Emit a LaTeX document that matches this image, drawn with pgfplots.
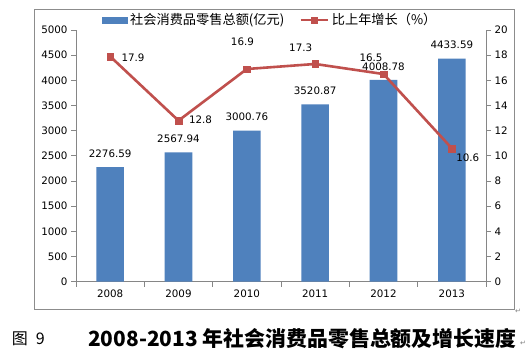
\documentclass[border=0pt]{standalone}
\usepackage{pgfplots}
\pgfplotsset{compat=1.18}
\usepackage{pgfplotstable}
\usepackage{fontspec}
\setmainfont{DejaVu Sans}
\newfontfamily\cjk{Noto Sans CJK SC}
\definecolor{barblue}{HTML}{4F81BD}
\definecolor{linered}{HTML}{C0504D}
\definecolor{axisgray}{HTML}{868686}
\definecolor{framegray}{HTML}{8C8C8C}
\newcommand\tickfont{\fontsize{10.3}{12}\selectfont}
\pgfplotsset{
  barlegend/.style={legend image code/.code={\fill[barblue] (0pt,-2.7pt) rectangle (25pt,2.7pt);}},
  linelegend/.style={legend image code/.code={\draw[mark repeat=2, mark phase=2, ##1] plot coordinates {(0pt,0pt) (13.5pt,0pt) (27pt,0pt)};}},
  redline/.style={linered, line width=2.6pt, mark=square*, mark size=3.4pt,
    mark options={fill=linered, draw=linered, line width=0.2pt}},
}

\pgfplotstableread{
x v
0 2276.59
1 2567.94
2 3000.76
3 3520.87
4 4008.78
5 4433.59
}\bartable
\pgfplotstableread{
x g dx dy
0 17.9 22.8 -1
1 12.8 22 0.7
2 16.9 -4.4 27.3
3 17.3 -14.5 16
4 16.5 -12.5 16.3
5 10.6 16 -9.3
}\linetable

\begin{document}
\begin{tikzpicture}
\path[use as bounding box] (0,0) rectangle (529pt,356pt);
\fill[white] (0,0) rectangle (529pt,356pt);
\draw[framegray, line width=0.75pt] (34pt,347pt) rectangle (514pt,47pt);
\pgfplotsset{common/.style={at={(76pt,74.3pt)}, anchor=south west, scale only axis,
  width=410pt, height=251.7pt, xmin=-0.5, xmax=5.5,
  tick align=outside, major tick length=5pt, minor tick length=5pt,
  every tick/.style={axisgray, line width=0.75pt},
  axis line style={axisgray, line width=0.75pt},
  ticklabel style={font=\tickfont, text=black},
  /pgf/number format/assume math mode=true, /pgf/number format/1000 sep={},
  clip=false}}
\begin{axis}[common, ymin=0, ymax=5000,
  axis x line*=bottom, axis y line*=left,
  ytick={0,500,...,5000},
  xtick={0,...,5}, xticklabels={2008,2009,2010,2011,2012,2013},
  major x tick style={draw=none},
  minor xtick={-0.5,0.5,1.5,2.5,3.5,4.5,5.5}]
\addplot[ybar, bar width=27.6pt, fill=barblue, draw=none,
  nodes near coords, point meta=explicit symbolic,
  every node near coord/.style={anchor=center, yshift=13.5pt, font=\tickfont, text=black}]
  table[x=x, y=v, meta=v] {\bartable};
\end{axis}
\begin{axis}[common, ymin=0, ymax=20,
  axis x line=none, axis y line*=right,
  ytick={0,2,...,20},
  legend columns=2, legend cell align=left,
  legend style={draw=none, fill=none, at={(axis description cs:0.055,1.0397)}, anchor=west,
    font=\cjk\fontsize{13.2}{15}\selectfont,
    /tikz/every odd column/.append style={column sep=1pt},
    /tikz/every even column/.append style={column sep=13pt}}]
\addlegendimage{barlegend}
\addlegendentry{社会消费品零售总额(亿元)}
\addlegendimage{redline, linelegend}
\addlegendentry{比上年增长（\%）}
\addplot[forget plot, redline,
  nodes near coords, point meta=explicit symbolic,
  visualization depends on={\thisrow{dx}\as\mydx},
  visualization depends on={\thisrow{dy}\as\mydy},
  every node near coord/.style={anchor=center, xshift=\mydx pt, yshift=\mydy pt, font=\tickfont, text=black}]
  table[x=x, y=g, meta=g] {\linetable};
\end{axis}
\node[anchor=west, inner sep=0pt, font=\cjk\fontsize{16}{18}\selectfont] at (11.7pt,17pt) {图\hspace{8pt}9};
\node[anchor=west, inner sep=0pt, font=\cjk\bfseries\fontsize{20.9}{24}\selectfont] at (88pt,17pt) {2008-2013 年社会消费品零售总额及增长速度};
\node[font=\fontsize{7}{8}\selectfont, text=gray] at (518pt,45pt) {↵};
\node[font=\fontsize{7}{8}\selectfont, text=gray] at (523pt,13pt) {↵};
\end{tikzpicture}
\end{document}
